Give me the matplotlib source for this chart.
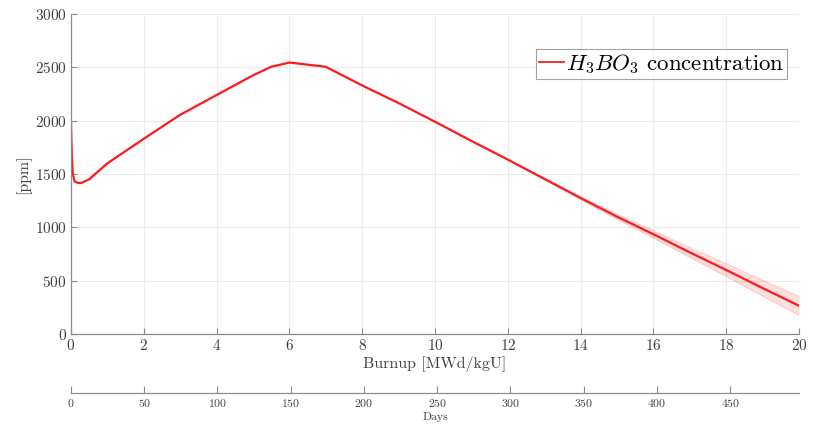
import matplotlib
matplotlib.use("Agg")
import matplotlib.pyplot as plt
import numpy as np

plt.rcParams['font.family'] = ['cmr10', 'DejaVu Serif']
plt.rcParams['mathtext.fontset'] = 'cm'
plt.rcParams['axes.formatter.use_mathtext'] = True

# H3BO3 concentration vs burnup
burnup = [0, 0.02, 0.05, 0.1, 0.2, 0.3, 0.5, 1, 2, 3, 4, 5, 5.5, 6, 7, 8, 9, 10,
          11, 12, 13, 14, 15, 16, 17, 18, 19, 20]
ppm = [1990, 1700, 1500, 1430, 1415, 1418, 1450, 1600, 1830, 2055, 2240, 2425,
       2505, 2545, 2505, 2330, 2165, 1990, 1810, 1635, 1455, 1275, 1100, 935,
       765, 600, 430, 265]
ppm_err = [0, 0, 0, 0, 0, 0, 0, 0, 0, 0, 0, 0, 0, 0, 0, 0, 0, 0,
           0, 2, 6, 14, 24, 35, 47, 60, 74, 89]

x_ticks = [0, 2, 4, 6, 8, 10, 12, 14, 16, 18, 20]
y_ticks = [0, 500, 1000, 1500, 2000, 2500, 3000]
day_ticks = [0, 50, 100, 150, 200, 250, 300, 350, 400, 450]
days_per_burnup = 24.85

spine_col = '#8c8c8c'
text_col = '#404040'

fig = plt.figure(figsize=(8.13, 4.24), dpi=100)
ax = fig.add_axes([0.0873, 0.2123, 0.8955, 0.7547])

b = np.array(burnup)
p = np.array(ppm)
e = np.array(ppm_err)
ax.fill_between(b, p - e, p + e, color='#ff0000', alpha=0.13, lw=0)
ax.plot(b, p + e, color='#ff0000', alpha=0.15, lw=0.8)
ax.plot(b, p - e, color='#ff0000', alpha=0.15, lw=0.8)
ax.plot(b, p, color='#ff1a1a', lw=1.6, label=r'$H_3BO_3$ concentration')

ax.set_xlim(0, 20)
ax.set_ylim(0, 3000)
ax.set_xticks(x_ticks)
ax.set_yticks(y_ticks)
ax.grid(True, color='#ebebeb', lw=0.8)
ax.set_axisbelow(True)
for s in ['top', 'right']:
    ax.spines[s].set_visible(False)
for s in ['left', 'bottom']:
    ax.spines[s].set_color(spine_col)
    ax.spines[s].set_linewidth(0.9)
ax.tick_params(direction='in', length=4, color=spine_col, labelcolor=text_col,
               labelsize=11, pad=3)
ax.set_xlabel('Burnup [MWd/kgU]', fontsize=11.5, color=text_col, labelpad=2)
ax.set_ylabel('[ppm]', fontsize=11.5, color=text_col, labelpad=3)

leg = ax.legend(loc='upper right', bbox_to_anchor=(0.9835, 0.89), fontsize=16.5,
                frameon=True, fancybox=False, handlelength=1.1, handletextpad=0.1,
                borderpad=0.12, borderaxespad=0)
leg.get_frame().set_edgecolor('#8c8c8c')
leg.get_frame().set_linewidth(0.8)
for h in leg.get_lines():
    h.set_linewidth(1.3)

# secondary "Days" axis
ax2 = fig.add_axes([0.0873, 0.0731, 0.8955, 0.0001])
ax2.set_xlim(0, 20 * days_per_burnup)
ax2.set_xticks(day_ticks)
ax2.set_yticks([])
for s in ['top', 'right', 'left']:
    ax2.spines[s].set_visible(False)
ax2.spines['bottom'].set_color(spine_col)
ax2.spines['bottom'].set_linewidth(0.9)
ax2.tick_params(axis='x', direction='in', length=5, color=spine_col,
                labelcolor=text_col, labelsize=8.5, pad=3)
ax2.set_xlabel('Days', fontsize=8.5, color=text_col, labelpad=2)
ax2.patch.set_visible(False)

fig.savefig('out.png', dpi=100)
